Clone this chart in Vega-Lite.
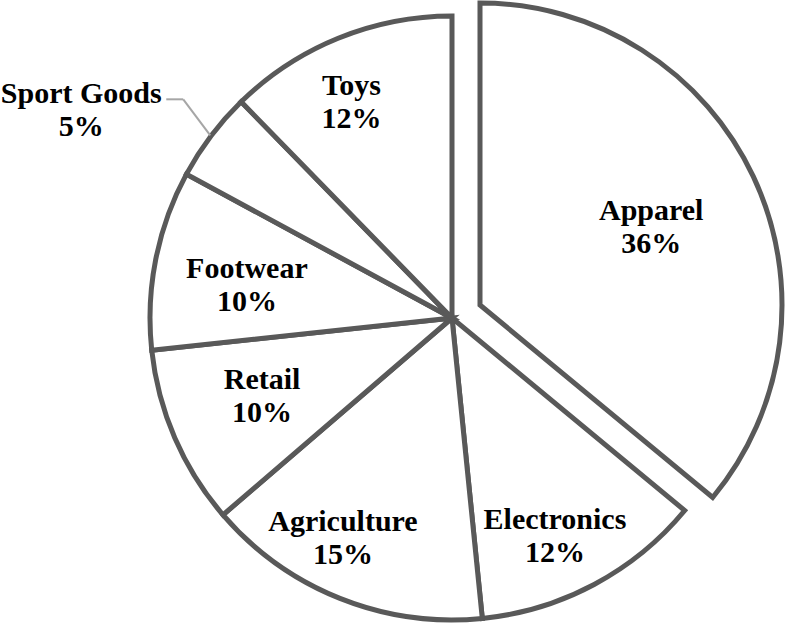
{
  "$schema": "https://vega.github.io/schema/vega-lite/v6.json",
  "width": 604,
  "height": 604,
  "autosize": {"type": "none"},
  "padding": {"left": 150, "top": 16, "right": 34, "bottom": 5},
  "background": "white",
  "config": {"view": {"stroke": null}},
  "data": {
    "values": [
      {"category": "Apparel", "share": 36.0},
      {"category": "Electronics", "share": 12.4},
      {"category": "Agriculture", "share": 15.3},
      {"category": "Retail", "share": 9.6},
      {"category": "Footwear", "share": 9.6},
      {"category": "Sport Goods", "share": 4.8},
      {"category": "Toys", "share": 12.3}
    ]
  },
  "transform": [
    {"window": [{"op": "row_number", "as": "order"}]},
    {"stack": "share", "groupby": [], "sort": [{"field": "order"}], "as": ["t0", "t1"]},
    {"calculate": "(datum.t0 + datum.t1) / 2", "as": "mid"},
    {"calculate": "[datum.category, format(datum.share, '.0f') + '%']", "as": "label"},
    {"calculate": "2 * PI * datum.mid / 100", "as": "rad"},
    {"calculate": "303 * sin(datum.rad)", "as": "rimX"},
    {"calculate": "303 * cos(datum.rad)", "as": "rimY"},
    {"calculate": "datum.rimX - 27", "as": "elbX"},
    {"calculate": "datum.rimY + 36", "as": "elbY"},
    {"calculate": "datum.elbX - 17", "as": "tailX"}
  ],
  "layer": [
    {
      "transform": [{"filter": "datum.category !== 'Apparel'"}],
      "mark": {"type": "arc", "fill": "white", "stroke": "#595959", "strokeWidth": 5},
      "encoding": {
        "theta": {"field": "t0", "type": "quantitative", "stack": null, "scale": {"domain": [0, 100], "range": [0, 6.283185307179586]}},
        "theta2": {"field": "t1"}
      }
    },
    {
      "transform": [{"filter": "datum.category === 'Apparel'"}],
      "mark": {"type": "arc", "fill": "white", "stroke": "#595959", "strokeWidth": 5, "xOffset": 28, "yOffset": -13},
      "encoding": {
        "theta": {"field": "t0", "type": "quantitative", "stack": null},
        "theta2": {"field": "t1"}
      }
    },
    {
      "transform": [{"filter": "datum.category === 'Sport Goods'"}],
      "mark": {"type": "rule", "stroke": "#a6a6a6", "strokeWidth": 2},
      "encoding": {
        "x": {"field": "rimX", "type": "quantitative", "axis": null, "scale": {"domain": [-302, 302], "nice": false, "zero": false}},
        "y": {"field": "rimY", "type": "quantitative", "axis": null, "scale": {"domain": [-302, 302], "nice": false, "zero": false}},
        "x2": {"field": "elbX"},
        "y2": {"field": "elbY"}
      }
    },
    {
      "transform": [{"filter": "datum.category === 'Sport Goods'"}],
      "mark": {"type": "rule", "stroke": "#a6a6a6", "strokeWidth": 2},
      "encoding": {
        "x": {"field": "elbX", "type": "quantitative"},
        "y": {"field": "elbY", "type": "quantitative"},
        "x2": {"field": "tailX"}
      }
    },
    {
      "transform": [{"filter": "indexof(['Toys','Electronics'], datum.category) >= 0"}],
      "mark": {"type": "text", "radius": 240, "dx": -10, "dy": -10, "font": "Liberation Serif", "fontWeight": "bold", "fontSize": 30, "lineHeight": 33, "fill": "#000000", "align": "center", "baseline": "middle"},
      "encoding": {
        "theta": {"field": "mid", "type": "quantitative", "stack": null},
        "text": {"field": "label"}
      }
    },
    {
      "transform": [{"filter": "datum.category === 'Agriculture'"}],
      "mark": {"type": "text", "radius": 240, "dx": -20, "dy": -19, "font": "Liberation Serif", "fontWeight": "bold", "fontSize": 30, "lineHeight": 33, "fill": "#000000", "align": "center", "baseline": "middle"},
      "encoding": {
        "theta": {"field": "mid", "type": "quantitative", "stack": null},
        "text": {"field": "label"}
      }
    },
    {
      "transform": [{"filter": "datum.category === 'Retail'"}],
      "mark": {"type": "text", "radius": 207, "dy": -20, "font": "Liberation Serif", "fontWeight": "bold", "fontSize": 30, "lineHeight": 33, "fill": "#000000", "align": "center", "baseline": "middle"},
      "encoding": {
        "theta": {"field": "mid", "type": "quantitative", "stack": null},
        "text": {"field": "label"}
      }
    },
    {
      "transform": [{"filter": "datum.category === 'Footwear'"}],
      "mark": {"type": "text", "radius": 207, "dx": -2, "dy": -9, "font": "Liberation Serif", "fontWeight": "bold", "fontSize": 30, "lineHeight": 33, "fill": "#000000", "align": "center", "baseline": "middle"},
      "encoding": {
        "theta": {"field": "mid", "type": "quantitative", "stack": null},
        "text": {"field": "label"}
      }
    },
    {
      "transform": [{"filter": "datum.category === 'Apparel'"}],
      "mark": {"type": "text", "radius": 187, "dx": 30, "dy": -27, "font": "Liberation Serif", "fontWeight": "bold", "fontSize": 30, "lineHeight": 33, "fill": "#000000", "align": "center", "baseline": "middle"},
      "encoding": {
        "theta": {"field": "mid", "type": "quantitative", "stack": null},
        "text": {"field": "label"}
      }
    },
    {
      "transform": [{"filter": "datum.category === 'Sport Goods'"}],
      "mark": {"type": "text", "radius": 303, "dx": -129, "dy": -41, "font": "Liberation Serif", "fontWeight": "bold", "fontSize": 30, "lineHeight": 33, "fill": "#000000", "align": "center", "baseline": "middle"},
      "encoding": {
        "theta": {"field": "mid", "type": "quantitative", "stack": null},
        "text": {"field": "label"}
      }
    }
  ]
}
